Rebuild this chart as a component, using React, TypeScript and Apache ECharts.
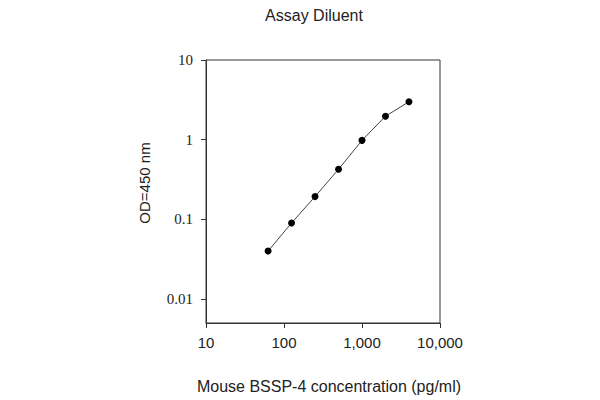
import React, { useEffect, useRef } from "react";
import * as echarts from "echarts";

const concentrations = [62.5, 125, 250, 500, 1000, 2000, 4000];
const odValues = [0.04, 0.09, 0.193, 0.425, 0.98, 1.97, 2.99];
const yTickValues = [0.01, 0.1, 1, 10];
const xTickValues = [10, 100, 1000, 10000];

const chartTitle = "Assay Diluent";
const xAxisTitle = "Mouse BSSP-4 concentration (pg/ml)";
const yAxisTitle = "OD=450 nm";

export default function App() {
  const ref = useRef<HTMLDivElement>(null);
  useEffect(() => {
    if (!ref.current) return;
    const chart = echarts.init(ref.current, null, { renderer: "svg" });
    const sans = "'Liberation Sans', Arial, sans-serif";
    const serif = "'Liberation Serif', 'Times New Roman', serif";
    chart.setOption({
      animation: false,
      backgroundColor: "#ffffff",
      grid: {
        left: 206,
        right: 160,
        top: 60,
        bottom: 77,
        show: true,
        borderColor: "#333",
        borderWidth: 1,
        backgroundColor: "transparent",
      },
      xAxis: {
        type: "log",
        logBase: 10,
        min: 10,
        max: 10000,
        splitLine: { show: false },
        minorTick: { show: false },
        axisLine: { show: true, lineStyle: { color: "#333", width: 1 } },
        axisTick: {
          show: true,
          inside: false,
          length: 5,
          lineStyle: { color: "#333" },
          customValues: xTickValues,
        },
        axisLabel: {
          customValues: xTickValues,
          margin: 12,
          color: "#222",
          fontFamily: sans,
          fontSize: 15,
          formatter: (v: number) => Math.round(v).toLocaleString("en-US"),
        },
      },
      yAxis: {
        type: "log",
        logBase: 10,
        min: 0.005,
        max: 10,
        splitLine: { show: false },
        minorTick: { show: false },
        axisLine: { show: true, lineStyle: { color: "#333", width: 1 } },
        axisTick: {
          show: true,
          inside: false,
          length: 5,
          lineStyle: { color: "#333" },
          customValues: yTickValues,
        },
        axisLabel: {
          customValues: yTickValues,
          margin: 13,
          color: "#222",
          fontFamily: serif,
          fontSize: 15,
          formatter: (v: number) => {
            const p = Math.round(Math.log10(v));
            return p >= 0 ? String(Math.pow(10, p)) : Math.pow(10, p).toFixed(-p);
          },
        },
      },
      graphic: [
        {
          type: "text",
          x: 314,
          y: 15,
          style: {
            text: chartTitle,
            fill: "#222",
            font: `16px ${sans}`,
            textAlign: "center",
            textVerticalAlign: "middle",
          },
        },
        {
          type: "text",
          x: 329,
          y: 386,
          style: {
            text: xAxisTitle,
            fill: "#222",
            font: `16px ${sans}`,
            textAlign: "center",
            textVerticalAlign: "middle",
          },
        },
        {
          type: "text",
          x: 144,
          y: 183,
          rotation: Math.PI / 2,
          style: {
            text: yAxisTitle,
            fill: "#222",
            font: `15px ${sans}`,
            textAlign: "center",
            textVerticalAlign: "middle",
          },
        },
      ],
      series: [
        {
          type: "line",
          data: concentrations.map((c, i) => [c, odValues[i]]),
          symbol: "circle",
          symbolSize: 7,
          itemStyle: { color: "#000" },
          lineStyle: { color: "#444", width: 1 },
        },
      ],
    });
    return () => chart.dispose();
  }, []);
  return <div ref={ref} style={{ width: 600, height: 400, position: "absolute", left: 0, top: 0 }} />;
}
